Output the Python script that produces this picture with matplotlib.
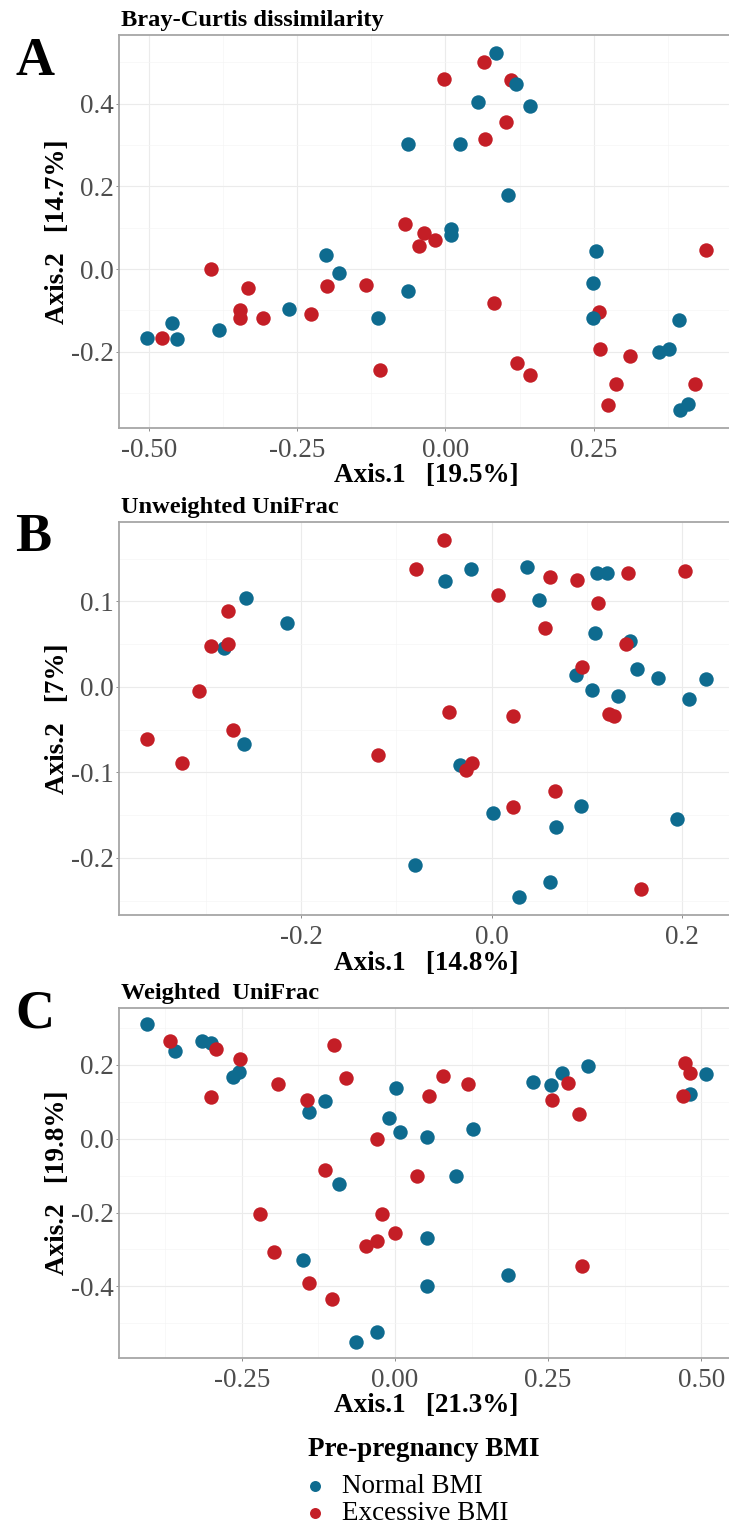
import numpy as np
import matplotlib
matplotlib.use("Agg")
import matplotlib.pyplot as plt
from matplotlib.ticker import MultipleLocator, AutoMinorLocator, FormatStrFormatter

plt.rcParams['font.family'] = ['Liberation Serif', 'DejaVu Serif']
plt.rcParams['axes.unicode_minus'] = False

# Panel A - Bray-Curtis
a_normal_x = [-0.503, -0.461, -0.452, -0.381, -0.263, -0.202, -0.179, -0.114, -0.063, -0.063,
              0.024, 0.055, 0.085, 0.119, 0.142, 0.010, 0.009, 0.105, 0.254, 0.248,
              0.248, 0.360, 0.377, 0.393, 0.395, 0.409]
a_normal_y = [-0.166, -0.131, -0.169, -0.147, -0.096, 0.035, -0.010, -0.117, -0.054, 0.303,
              0.303, 0.403, 0.523, 0.447, 0.395, 0.097, 0.083, 0.179, 0.043, -0.034,
              -0.117, -0.201, -0.192, -0.123, -0.341, -0.325]
a_excess_x = [-0.478, -0.395, -0.333, -0.346, -0.346, -0.307, -0.226, -0.200, -0.134, -0.110,
              -0.068, -0.037, -0.045, -0.017, -0.002, 0.065, 0.110, 0.102, 0.067, 0.081,
              0.120, 0.142, 0.258, 0.261, 0.311, 0.287, 0.274, 0.421, 0.439]
a_excess_y = [-0.166, 0.000, -0.045, -0.099, -0.117, -0.119, -0.108, -0.040, -0.038, -0.244,
              0.109, 0.087, 0.055, 0.071, 0.461, 0.502, 0.457, 0.356, 0.314, -0.081,
              -0.226, -0.256, -0.104, -0.194, -0.210, -0.278, -0.329, -0.278, 0.047]

# Panel B - Unweighted UniFrac
b_normal_x = [-0.258, -0.215, -0.281, -0.260, -0.081, -0.049, -0.022, -0.033, 0.001, 0.037,
              0.050, 0.029, 0.061, 0.067, 0.094, 0.088, 0.105, 0.108, 0.110, 0.121,
              0.145, 0.152, 0.133, 0.175, 0.194, 0.207, 0.225]
b_normal_y = [0.104, 0.075, 0.045, -0.067, -0.208, 0.124, 0.138, -0.091, -0.148, 0.140,
              0.102, -0.246, -0.228, -0.164, -0.139, 0.014, -0.004, 0.063, 0.133, 0.133,
              0.054, 0.021, -0.011, 0.010, -0.154, -0.014, 0.009]
b_excess_x = [-0.362, -0.325, -0.307, -0.295, -0.277, -0.277, -0.272, -0.119, -0.079, -0.050,
              -0.045, -0.027, -0.021, 0.007, 0.022, 0.022, 0.061, 0.056, 0.066, 0.089,
              0.095, 0.112, 0.123, 0.128, 0.141, 0.143, 0.157, 0.203]
b_excess_y = [-0.061, -0.089, -0.005, 0.048, 0.089, 0.050, -0.050, -0.080, 0.138, 0.172,
              -0.029, -0.097, -0.089, 0.107, -0.034, -0.140, 0.129, 0.069, -0.122, 0.125,
              0.023, 0.098, -0.032, -0.034, 0.050, 0.133, -0.237, 0.136]

# Panel C - Weighted UniFrac
c_normal_x = [-0.405, -0.360, -0.315, -0.301, -0.265, -0.255, -0.141, -0.114, -0.091, -0.150,
              -0.063, -0.030, -0.009, 0.002, 0.008, 0.052, 0.053, 0.052, 0.099, 0.128,
              0.185, 0.225, 0.255, 0.272, 0.315, 0.482, 0.508]
c_normal_y = [0.311, 0.238, 0.266, 0.259, 0.167, 0.182, 0.073, 0.101, -0.122, -0.328,
              -0.551, -0.523, 0.056, 0.137, 0.019, 0.005, -0.270, -0.400, -0.101, 0.025,
              -0.369, 0.153, 0.146, 0.179, 0.198, 0.122, 0.176]
c_excess_x = [-0.367, -0.301, -0.293, -0.253, -0.221, -0.198, -0.191, -0.143, -0.141, -0.103,
              -0.114, -0.099, -0.080, -0.030, -0.047, -0.029, -0.021, 0.000, 0.036, 0.056,
              0.078, 0.120, 0.257, 0.282, 0.301, 0.306, 0.473, 0.482, 0.471]
c_excess_y = [0.264, 0.113, 0.242, 0.217, -0.204, -0.306, 0.149, 0.106, -0.391, -0.435,
              -0.085, 0.254, 0.165, 0.000, -0.290, -0.276, -0.204, -0.256, -0.102, 0.116,
              0.169, 0.148, 0.105, 0.151, 0.066, -0.344, 0.205, 0.179, 0.115]

panels = [
    dict(letter="A", title="Bray-Curtis dissimilarity",
         xlab="Axis.1   [19.5%]", ylab="Axis.2   [14.7%]",
         nx=a_normal_x, ny=a_normal_y, ex=a_excess_x, ey=a_excess_y,
         xstep=0.25, ystep=0.2, xfmt='%.2f', yfmt='%.1f', red_top=False),
    dict(letter="B", title="Unweighted UniFrac",
         xlab="Axis.1   [14.8%]", ylab="Axis.2   [7%]",
         nx=b_normal_x, ny=b_normal_y, ex=b_excess_x, ey=b_excess_y,
         xstep=0.2, ystep=0.1, xfmt='%.1f', yfmt='%.1f', red_top=True),
    dict(letter="C", title="Weighted  UniFrac",
         xlab="Axis.1   [21.3%]", ylab="Axis.2   [19.8%]",
         nx=c_normal_x, ny=c_normal_y, ex=c_excess_x, ey=c_excess_y,
         xstep=0.25, ystep=0.2, xfmt='%.2f', yfmt='%.1f', red_top=True),
]

blue = '#0E6B8F'
red = '#C41E26'

W, H = 729, 1528
fig = plt.figure(figsize=(W / 100, H / 100), dpi=100)

# pixel boxes: (top, bottom) of each panel, all panels share left/right
left_px, right_px = 119, 734
boxes = [(35, 428), (522, 915), (1008, 1358)]
letter_base = [75, 551, 1027]

handles = []
for p, (top, bot), lb in zip(panels, boxes, letter_base):
    ax = fig.add_axes([left_px / W, 1 - bot / H, (right_px - left_px) / W, (bot - top) / H])
    hpx = bot - top
    z_red = 3 if p['red_top'] else 2
    hb = ax.scatter(p['nx'], p['ny'], s=108, color=blue, linewidths=0, zorder=2.5, label='Normal BMI')
    hr = ax.scatter(p['ex'], p['ey'], s=108, color=red, linewidths=0, zorder=z_red, label='Excessive BMI')
    handles = [hb, hr]
    ax.margins(0.05)

    ax.xaxis.set_major_locator(MultipleLocator(p['xstep']))
    ax.yaxis.set_major_locator(MultipleLocator(p['ystep']))
    ax.xaxis.set_minor_locator(AutoMinorLocator(2))
    ax.yaxis.set_minor_locator(AutoMinorLocator(2))
    ax.xaxis.set_major_formatter(FormatStrFormatter(p['xfmt']))
    ax.yaxis.set_major_formatter(FormatStrFormatter(p['yfmt']))

    ax.grid(which='major', color='#EBEBEB', linewidth=0.8, zorder=0)
    ax.grid(which='minor', color='#F5F5F5', linewidth=0.5, zorder=0)
    ax.set_axisbelow(True)
    for sp in ax.spines.values():
        sp.set_color('#A6A6A6')
        sp.set_linewidth(1.3)

    ax.tick_params(which='major', direction='out', length=2.5, width=0.7, color='#8C8C8C',
                   labelsize=19.5, labelcolor='#4D4D4D')
    ax.tick_params(axis='x', pad=4.5)
    ax.tick_params(axis='y', pad=1.5)
    ax.tick_params(which='minor', length=0)

    ax.set_xlabel(p['xlab'], fontsize=19.5, fontweight='bold', va='center')
    ax.xaxis.set_label_coords((426.5 - left_px) / (right_px - left_px), -48 / hpx)
    ax.set_ylabel(p['ylab'], fontsize=19.5, fontweight='bold', va='center')
    ax.yaxis.set_label_coords((58 - left_px) / (right_px - left_px), 0.5)

    ax.text(0.003, 1 + 9 / hpx, p['title'], transform=ax.transAxes, ha='left', va='baseline',
            fontsize=17.6, fontweight='bold')
    fig.text(15 / W, 1 - lb / H, p['letter'], ha='left', va='baseline', fontsize=39, fontweight='bold')

# legend
fig.text(308 / W, 1 - 1456 / H, 'Pre-pregnancy BMI', ha='left', va='baseline',
         fontsize=19.5, fontweight='bold')
fig.legend(handles=handles, labels=['Normal BMI', 'Excessive BMI'], loc='upper left',
           bbox_to_anchor=(308 / W, 1 - 1474 / H), frameon=False, fontsize=19.5,
           borderpad=0, borderaxespad=0, handlelength=0.5, handletextpad=0.75,
           labelspacing=0.07, markerscale=0.76)

fig.savefig('out.png', dpi=100)
